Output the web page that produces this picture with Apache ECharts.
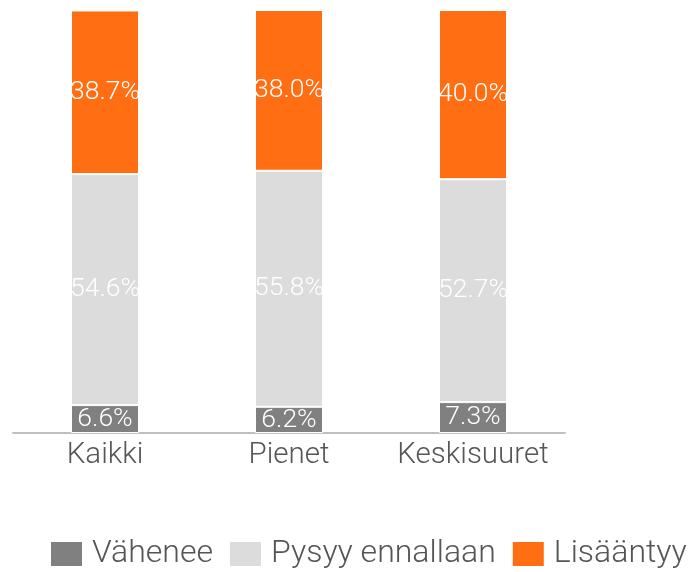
<!DOCTYPE html>
<html style="height:100%">
<meta charset="utf-8" />
<title>Kaikki / Pienet / Keskisuuret</title>
<script src="https://cdn.jsdelivr.net/npm/echarts@6/dist/echarts.min.js"></script>
<body style="margin:0;height:100%;width:100%;background:#fff">
<div id="chartmain" style="width:694px;height:572px;"></div>
<script type="text/javascript">
    var categories = ['Kaikki', 'Pienet', 'Keskisuuret'];
    var vahenee = [6.6, 6.2, 7.3];
    var pysyy = [54.6, 55.8, 52.7];
    var lisaantyy = [38.7, 38.0, 40.0];

    var FONT = 'Roboto, sans-serif';

    function mkSeries(name, data, color) {
        return {
            name: name,
            type: 'bar',
            stack: 'all',
            barWidth: 68,
            data: data,
            itemStyle: { color: color, borderColor: '#fff', borderWidth: 1 },
            label: {
                show: true,
                position: 'inside',
                color: '#fff',
                fontFamily: FONT,
                fontWeight: 300,
                fontSize: 26.5,
                formatter: function (p) { return p.value.toFixed(1) + '%'; }
            }
        };
    }

    var myChart = echarts.init(document.getElementById('chartmain'));
    var option = {
        backgroundColor: 'white',
        animation: false,
        grid: { left: 13, right: 129, top: 10, bottom: 139, containLabel: false },
        legend: {
            bottom: 2,
            left: 49,
            width: 645,
            padding: 0,
            icon: 'rect',
            itemWidth: 33,
            itemHeight: 26,
            itemGap: 15,
            textStyle: { fontFamily: FONT, fontWeight: 300, fontSize: 32, color: '#555', padding: [0, 0, 0, 4] },
            data: ['Vähenee', 'Pysyy ennallaan', 'Lisääntyy']
        },
        xAxis: {
            type: 'category',
            data: categories,
            axisLine: { lineStyle: { color: '#c0c0c0', width: 2 } },
            axisTick: { show: false },
            axisLabel: { interval: 0, color: '#555', fontFamily: FONT, fontWeight: 300, fontSize: 29.5, margin: 8 }
        },
        yAxis: { type: 'value', min: 0, max: 100, show: false },
        series: [
            mkSeries('Vähenee', vahenee, '#808080'),
            mkSeries('Pysyy ennallaan', pysyy, '#dcdcdc'),
            mkSeries('Lisääntyy', lisaantyy, '#ff6e12')
        ]
    };
    myChart.setOption(option);
</script>
</body>
</html>
